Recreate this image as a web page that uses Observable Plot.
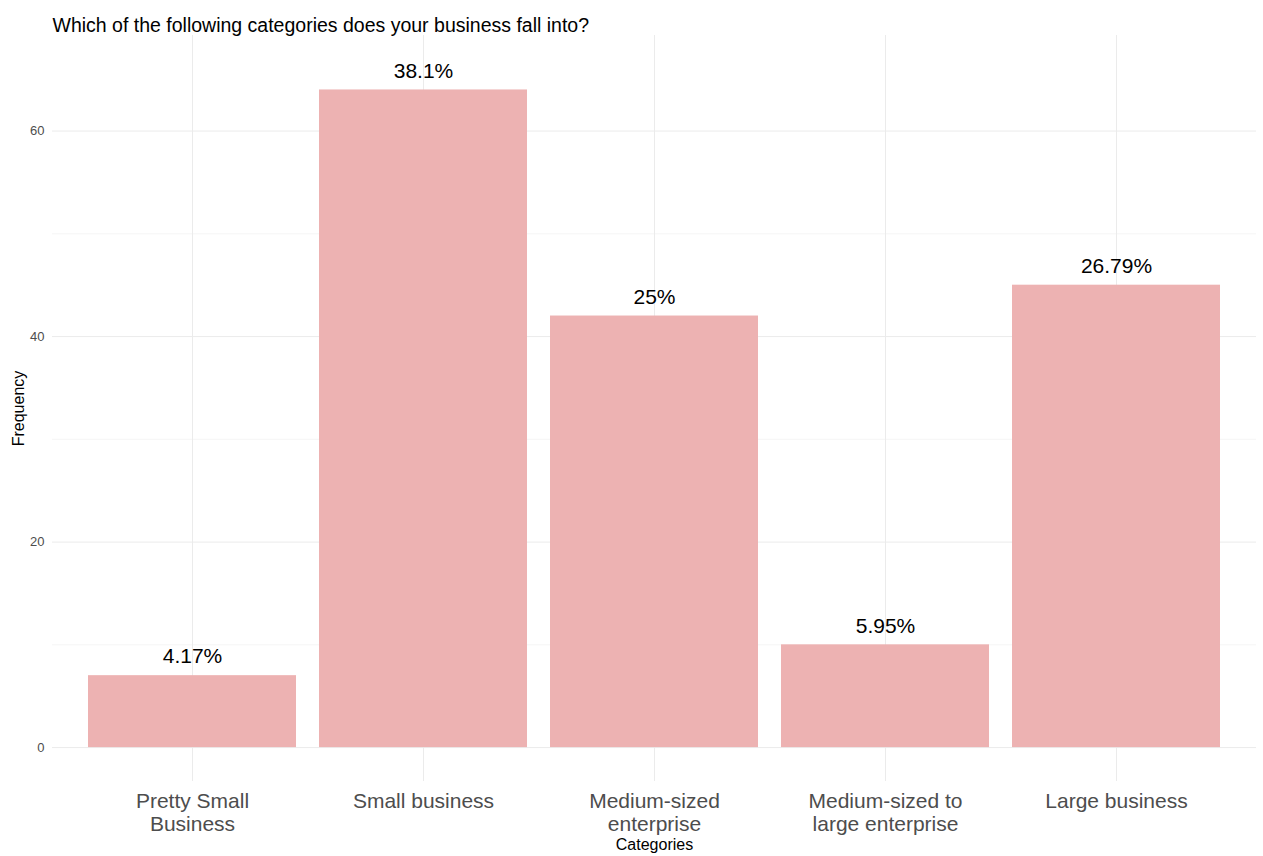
<!DOCTYPE html>
<html>
<head>
<meta charset="utf-8">
<script src="https://cdn.jsdelivr.net/npm/d3@7"></script>
<script src="https://cdn.jsdelivr.net/npm/@observablehq/plot@0.6"></script>
<style>
  html, body { margin: 0; padding: 0; background: #ffffff; }
  #chart svg { display: block; }
</style>
</head>
<body>
<div id="chart"></div>
<script>
const titleText = "Which of the following categories does your business fall into?";
const xLabelText = "Categories";
const yLabelText = "Frequency";
const categories = ["Pretty Small Business", "Small business", "Medium-sized enterprise", "Medium-sized to large enterprise", "Large business"];
const tickLabels = ["Pretty Small\nBusiness", "Small business", "Medium-sized\nenterprise", "Medium-sized to\nlarge enterprise", "Large business"];
const counts = [7, 64, 42, 10, 45];
const pctLabels = ["4.17%", "38.1%", "25%", "5.95%", "26.79%"];
const majorTicks = [0, 20, 40, 60];
const minorTicks = [10, 30, 50];

const data = categories.map((c, i) => ({category: c, count: counts[i], label: pctLabels[i]}));
const tickMap = new Map(categories.map((c, i) => [c, tickLabels[i]]));

const font = "'Liberation Sans', Arial, sans-serif";

const chart = Plot.plot({
  width: 1263,
  height: 856,
  marginTop: 35,
  marginBottom: 75,
  marginLeft: 52,
  marginRight: 7,
  style: {fontFamily: font, background: "#ffffff"},
  x: {domain: categories, paddingInner: 0.1, paddingOuter: 0.15, align: 0.5, axis: null},
  y: {domain: [-3.3, 69.3], axis: null},
  marks: [
    Plot.gridY(minorTicks, {stroke: "#F2F2F2", strokeOpacity: 1, strokeWidth: 0.8}),
    Plot.gridY(majorTicks, {stroke: "#EBEBEB", strokeOpacity: 1, strokeWidth: 1}),
    Plot.gridX(categories, {stroke: "#EBEBEB", strokeOpacity: 1, strokeWidth: 1}),
    Plot.barY(data, {x: "category", y: "count", fill: "#EDB2B2"}),
    Plot.text(data, {x: "category", y: "count", text: "label", dy: -19, fontSize: 21, fill: "#000000"}),
    Plot.axisY(majorTicks, {tickSize: 0, tickPadding: 8, fontSize: 13, fill: "#4D4D4D", label: null}),
    Plot.axisX(categories, {tickSize: 0, tickPadding: 10, fontSize: 21, fill: "#4D4D4D", lineHeight: 1.1, tickFormat: d => tickMap.get(d), label: null}),
    Plot.text([yLabelText], {frameAnchor: "left", textAnchor: "middle", rotate: -90, dx: -34, fontSize: 16, fill: "#000000"}),
    Plot.text([xLabelText], {frameAnchor: "bottom", dy: 68, fontSize: 16, fill: "#000000"}),
    Plot.text([titleText], {frameAnchor: "top-left", textAnchor: "start", dy: -17, fontSize: 19.5, fill: "#000000"})
  ]
});
document.getElementById("chart").appendChild(chart);
</script>
</body>
</html>
